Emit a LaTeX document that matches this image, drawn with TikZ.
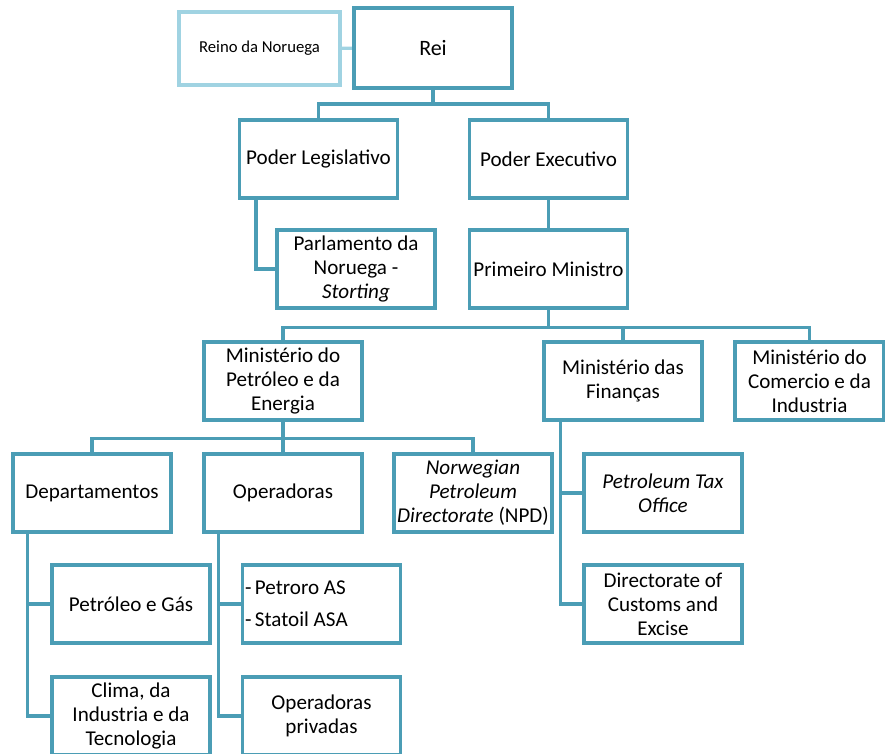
\documentclass[tikz,border=0pt]{standalone}
\usepackage{fontspec}
\setmainfont{Carlito}
\usepackage{tikz}
\usepackage{xcolor}
\definecolor{orgline}{RGB}{75,157,181}
\definecolor{orglight}{RGB}{160,211,226}

\begin{document}
\begin{tikzpicture}[
    box/.style={draw=orgline, line width=1.8pt, minimum width=3.16cm, minimum height=1.56cm,
                align=center, inner sep=0.05cm, font=\fontsize{12}{13.6}\selectfont},
    link/.style={draw=orgline, line width=1.8pt}
  ]
            \useasboundingbox (0,0) rectangle (17.7,-15.06);
            \clip (0,0) rectangle (17.7,-15.06);

            \node[box, draw=orglight, minimum width=3.22cm, minimum height=1.46cm, font=\fontsize{9.5}{11}\selectfont] (Reino) at (5.19,-0.97) {Reino da Noruega};
            \node[box, line width=2.3pt, minimum height=1.6cm, font=\fontsize{12.5}{14}\selectfont] (Rei) at (8.66,-0.96) {Rei};
            \node[box] (Legislativo) at (6.37,-3.18) {Poder Legislativo};
            \node[box] (Executivo) at (10.97,-3.18) {Poder Executivo};
            \node[box] (Parlamento) at (7.12,-5.38) {Parlamento da\\Noruega -\\\textit{Storting}};
            \node[box] (PrimeiroMinistro) at (10.97,-5.38) {Primeiro Ministro};
            \node[box] (MinPetroleo) at (5.66,-7.62) {Ministério do\\Petróleo e da\\Energia};
            \node[box] (MinFinancas) at (12.46,-7.62) {Ministério das\\Finanças};
            \node[box, minimum width=2.98cm] (MinComercio) at (16.19,-7.62) {Ministério do\\Comercio e da\\Industria};
            \node[box] (Departamentos) at (1.84,-9.86) {Departamentos};
            \node[box] (Operadoras) at (5.66,-9.86) {Operadoras};
            \node[box] (NPD) at (9.46,-9.86) {\textit{Norwegian}\\\textit{Petroleum}\\\textit{Directorate} (NPD)};
            \node[box] (PetroleoGas) at (2.62,-12.08) {Petróleo e Gás};
            \node[box] (Clima) at (2.62,-14.32) {Clima, da\\Industria e da\\Tecnologia};
            \node[box, align=flush left, text width=3.06cm] (Estatais) at (6.43,-12.08) {-\,Petroro AS\\[4.5pt]-\,Statoil ASA};
            \node[box] (Privadas) at (6.43,-14.32) {Operadoras\\privadas};
            \node[box] (TaxOffice) at (13.26,-9.86) {\textit{Petroleum Tax}\\\textit{Office}};
            \node[box] (Customs) at (13.26,-12.08) {Directorate of\\Customs and\\Excise};

            \draw[link, draw=orglight] (Reino) -- (Rei);
            \draw[link] (Rei.south) -- ++(0,-0.28) -| (Legislativo.north);
            \draw[link] (Rei.south) -- ++(0,-0.28) -| (Executivo.north);
            \draw[link] ([xshift=0.36cm]Legislativo.south west) |- (Parlamento.west);
            \draw[link] (Executivo) -- (PrimeiroMinistro);
            \draw[link] (PrimeiroMinistro.south) -- ++(0,-0.36) -| (MinPetroleo.north);
            \draw[link] (PrimeiroMinistro.south) -- ++(0,-0.36) -| (MinFinancas.north);
            \draw[link] (PrimeiroMinistro.south) -- ++(0,-0.36) -| (MinComercio.north);
            \draw[link] (MinPetroleo.south) -- ++(0,-0.34) -| (Departamentos.north);
            \draw[link] (MinPetroleo.south) -- ++(0,-0.34) -| (Operadoras.north);
            \draw[link] (MinPetroleo.south) -- ++(0,-0.34) -| (NPD.north);
            \draw[link] ([xshift=0.32cm]Departamentos.south west) |- (PetroleoGas.west);
            \draw[link] ([xshift=0.32cm]Departamentos.south west) |- (Clima.west);
            \draw[link] ([xshift=0.32cm]Operadoras.south west) |- (Estatais.west);
            \draw[link] ([xshift=0.32cm]Operadoras.south west) |- (Privadas.west);
            \draw[link] ([xshift=0.36cm]MinFinancas.south west) |- (TaxOffice.west);
            \draw[link] ([xshift=0.36cm]MinFinancas.south west) |- (Customs.west);
        \end{tikzpicture}
\end{document}
